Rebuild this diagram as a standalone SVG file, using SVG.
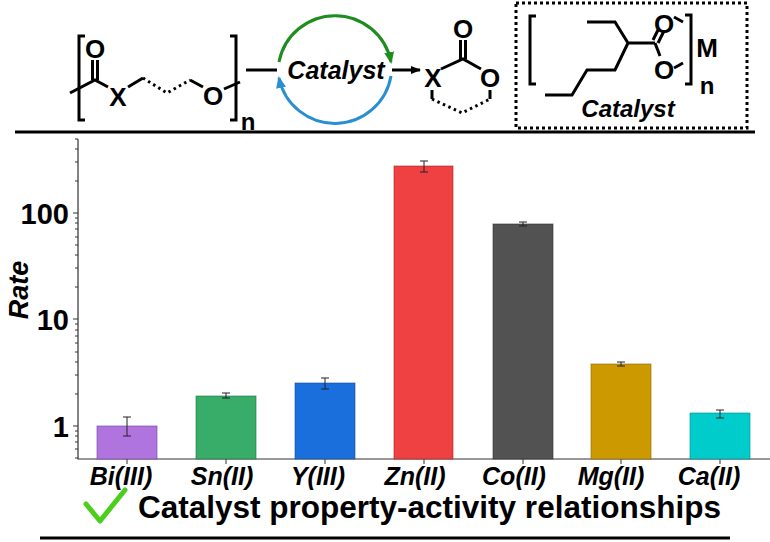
<svg xmlns="http://www.w3.org/2000/svg" width="770" height="542" viewBox="0 0 770 542">
<defs>
<style>
.b{font-family:"Liberation Sans",Arial,sans-serif;font-weight:bold}
.bi{font-family:"Liberation Sans",Arial,sans-serif;font-weight:bold;font-style:italic}
.ln{stroke:#000;stroke-width:3;fill:none}
.dt{stroke:#000;stroke-width:3;fill:none;stroke-dasharray:2.5 3.5}
.bar{stroke-width:1;stroke-opacity:0.6}
.eb{stroke:#222;stroke-width:1}
.tk{stroke:#333;stroke-width:1}
</style>
<marker id="ak" markerWidth="10" markerHeight="8" refX="9" refY="4" orient="auto" markerUnits="userSpaceOnUse"><path d="M0,0L10,4L0,8z" fill="#000"/></marker>
<marker id="ag" markerWidth="12" markerHeight="10" refX="10" refY="5" orient="auto" markerUnits="userSpaceOnUse"><path d="M0,0L12,5L0,10z" fill="#1e8c1e"/></marker>
<marker id="abl" markerWidth="12" markerHeight="10" refX="10" refY="5" orient="auto" markerUnits="userSpaceOnUse"><path d="M0,0L12,5L0,10z" fill="#2a8fd0"/></marker>
</defs>

<g id="polymer">
<path class="ln" d="M85,36H79V120H85"/>
<path class="ln" d="M70,93L95,80L108,87"/>
<path class="ln" d="M92.5,80V60M97.5,80V60"/>
<text class="b" x="95" y="58" font-size="26" text-anchor="middle">O</text>
<text class="b" x="118" y="106" font-size="26" text-anchor="middle">X</text>
<path class="ln" d="M128,87L143,78"/>
<path class="dt" d="M143,78L167,93L190,80"/>
<path class="ln" d="M190,80L203,87"/>
<text class="b" x="213" y="105" font-size="26" text-anchor="middle">O</text>
<path class="ln" d="M224,89L240,82"/>
<path class="ln" d="M230,36H236V120H230"/>
<text class="b" x="248" y="130" font-size="24" text-anchor="middle">n</text>
<path class="ln" d="M246,70H277"/>
</g>

<g id="catalyst-cycle">
<path d="M279,62A57,57 0 0 1 391,62" stroke="#1e8c1e" stroke-width="3" fill="none" marker-end="url(#ag)"/>
<path d="M391,76A57,57 0 0 1 279,78" stroke="#2a8fd0" stroke-width="3" fill="none" marker-end="url(#abl)"/>
<text class="bi" x="336" y="79" font-size="25" text-anchor="middle">Catalyst</text>
</g>

<g id="connectors">
<path d="M392,70H420" stroke="#000" stroke-width="3" marker-end="url(#ak)"/>
</g>

<g id="carbonate">
<text class="b" x="433" y="87" font-size="26" text-anchor="middle">X</text>
<path class="ln" d="M441,69L463,59L481,69"/>
<path class="ln" d="M460.5,59V40M465.5,59V40"/>
<text class="b" x="463" y="38" font-size="26" text-anchor="middle">O</text>
<text class="b" x="490" y="87" font-size="26" text-anchor="middle">O</text>
<path class="ln" d="M432,90V99M490,90V99"/>
<path class="dt" d="M432,99L462,113L490,99"/>
</g>

<g id="catalyst-box">
<rect x="516" y="3" width="231" height="125" fill="none" stroke="#000" stroke-width="3" stroke-dasharray="3 3"/>
<path class="ln" d="M536,16H530V84H536"/>
<path class="ln" d="M587,22H615L628,43H655M628,43L615,70H587L572,95H545"/>
<path class="ln" d="M653,40L659,28M658,43L664,31"/>
<path class="ln" d="M655,43L660,56"/>
<text class="b" x="664" y="33" font-size="26" text-anchor="middle">O</text>
<text class="b" x="664" y="79" font-size="26" text-anchor="middle">O</text>
<path class="ln" d="M674,17L683,22M674,68L683,63"/>
<path class="ln" d="M685,15H691V84H685"/>
<text class="b" x="707" y="57" font-size="26" text-anchor="middle">M</text>
<text class="b" x="707" y="94" font-size="24" text-anchor="middle">n</text>
<text class="bi" x="628" y="117" font-size="24" text-anchor="middle">Catalyst</text>
</g>

<g id="separators">
<path d="M15,132H755" stroke="#000" stroke-width="3"/>
<path d="M40,538H730" stroke="#000" stroke-width="3"/>
</g>

<g id="chart">
<path d="M78,139V459H770" stroke="#333" stroke-width="1.2" fill="none"/>
<g class="tk">
<path d="M73,426H78M73,319H78M73,213H78"/>
<path d="M75,458H78M75,449H78M75,442H78M75,436H78M75,431H78M75,394H78M75,375H78M75,362H78M75,352H78M75,343H78M75,336H78M75,330H78M75,324H78M75,287H78M75,268H78M75,255H78M75,245H78M75,237H78M75,229H78M75,223H78M75,218H78M75,181H78M75,162H78M75,149H78M75,139H78"/>
<path d="M127,459V464M226,459V464M325,459V464M424,459V464M523,459V464M621,459V464M720,459V464"/>
</g>
<text class="b" x="69" y="437" font-size="29" text-anchor="end">1</text>
<text class="b" x="69" y="330" font-size="29" text-anchor="end">10</text>
<text class="b" x="69" y="224" font-size="29" text-anchor="end">100</text>
<text class="bi" x="28" y="290" font-size="27" text-anchor="middle" transform="rotate(-90 28 290)">Rate</text>
<rect class="bar" x="97" y="426" width="60" height="33" fill="#b074de" stroke="#7040a0"/>
<rect class="bar" x="196" y="396" width="60" height="63" fill="#38ad6a" stroke="#207040"/>
<rect class="bar" x="295" y="383" width="60" height="76" fill="#1b6fdd" stroke="#104a99"/>
<rect class="bar" x="394" y="166" width="59" height="293" fill="#ef4142" stroke="#a02020"/>
<rect class="bar" x="493" y="224" width="60" height="235" fill="#525252" stroke="#303030"/>
<rect class="bar" x="591" y="364" width="60" height="95" fill="#cc9900" stroke="#8a6600"/>
<rect class="bar" x="690" y="413" width="60" height="46" fill="#00cccc" stroke="#008888"/>
<g class="eb">
<path d="M127,417V436M123,417H131M123,436H131"/>
<path d="M226,393V398M222,393H230M222,398H230"/>
<path d="M325,378V389M321,378H329M321,389H329"/>
<path d="M424,161V172M420,161H428M420,172H428"/>
<path d="M523,222V226M519,222H527M519,226H527"/>
<path d="M621,362V366M617,362H625M617,366H625"/>
<path d="M720,410V418M716,410H724M716,418H724"/>
</g>
<g class="bi" font-size="25" text-anchor="middle">
<text x="121" y="485">Bi(III)</text>
<text x="222" y="485">Sn(II)</text>
<text x="318" y="485">Y(III)</text>
<text x="415" y="485">Zn(II)</text>
<text x="514" y="485">Co(II)</text>
<text x="611" y="485">Mg(II)</text>
<text x="709" y="485">Ca(II)</text>
</g>
</g>

<g id="footer">
<path d="M86,504L100,521L125,490" stroke="#4ccf1a" stroke-width="5" fill="none" stroke-linecap="round" stroke-linejoin="round"/>
<text class="b" x="138" y="518" font-size="31.5">Catalyst property-activity relationships</text>
</g>
</svg>
